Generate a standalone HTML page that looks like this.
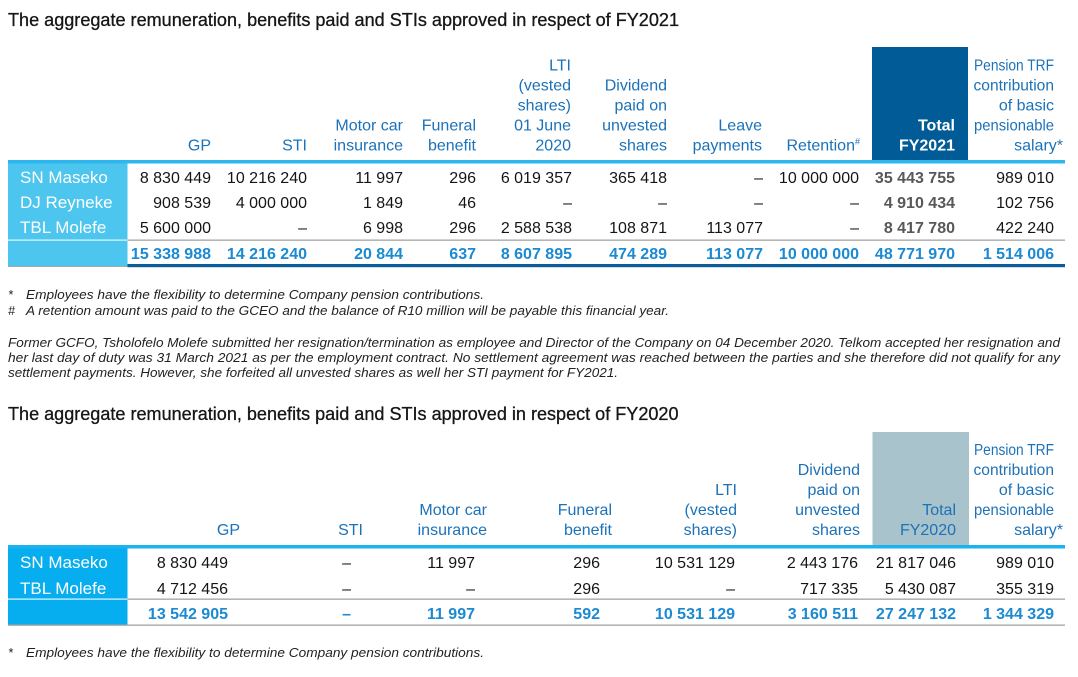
<!DOCTYPE html>
<html>
<head>
<meta charset="utf-8">
<style>
  html,body{margin:0;padding:0;background:#fff;}
  svg{display:block;}
  text{font-family:"Liberation Sans",Arial,sans-serif;}
  .t{font-size:18px;fill:#161616;stroke:#161616;stroke-width:0.3px;}
  .h{font-size:16px;fill:#1c72b8;}
  .hw{font-size:16px;fill:#ffffff;font-weight:bold;}
  .d{font-size:16px;fill:#151515;}
  .g{font-size:16px;fill:#58585a;font-weight:bold;}
  .tot{font-size:16px;fill:#1b8ad2;font-weight:bold;}
  .lab{font-size:17px;fill:#ffffff;}
  .n{font-size:12.5px;fill:#222;font-style:italic;}
</style>
</head>
<body>
<svg width="1078" height="677" viewBox="0 0 1078 677" xmlns="http://www.w3.org/2000/svg">
  <rect x="0" y="0" width="1078" height="677" fill="#ffffff"/>

  <!-- ===== TABLE 1 ===== -->
  <text class="t" x="8" y="26" textLength="671" lengthAdjust="spacingAndGlyphs">The aggregate remuneration, benefits paid and STIs approved in respect of FY2021</text>

  <rect x="872" y="47" width="96" height="114" fill="#005b97"/>

  <g text-anchor="end">
    <text class="h" x="211" y="150.5">GP</text>
    <text class="h" x="307" y="150.5">STI</text>
    <text class="h" x="403" y="130.5">Motor car</text>
    <text class="h" x="403" y="150.5">insurance</text>
    <text class="h" x="476" y="130.5">Funeral</text>
    <text class="h" x="476" y="150.5">benefit</text>
    <text class="h" x="571" y="70.5">LTI</text>
    <text class="h" x="571" y="90.5">(vested</text>
    <text class="h" x="571" y="110.5">shares)</text>
    <text class="h" x="571" y="130.5">01 June</text>
    <text class="h" x="571" y="150.5">2020</text>
    <text class="h" x="667" y="90.5">Dividend</text>
    <text class="h" x="667" y="110.5">paid on</text>
    <text class="h" x="667" y="130.5">unvested</text>
    <text class="h" x="667" y="150.5">shares</text>
    <text class="h" x="762" y="130.5">Leave</text>
    <text class="h" x="762" y="150.5">payments</text>
    <text class="h" x="860" y="150.5">Retention<tspan font-size="9" dy="-6">#</tspan></text>
    <text class="hw" x="955" y="130.5">Total</text>
    <text class="hw" x="955" y="150.5">FY2021</text>
    <text class="h" x="1054" y="70.5" font-size="15" textLength="80" lengthAdjust="spacingAndGlyphs">Pension TRF</text>
    <text class="h" x="1054" y="90.5" textLength="80.5" lengthAdjust="spacingAndGlyphs">contribution</text>
    <text class="h" x="1054" y="110.5">of basic</text>
    <text class="h" x="1054" y="130.5" textLength="80" lengthAdjust="spacingAndGlyphs">pensionable</text>
    <text class="h" x="1063" y="150.5">salary*</text>
  </g>

  <rect x="8" y="160" width="119.5" height="106.5" fill="#4cc5ef"/>
  <rect x="8" y="160" width="1057" height="3.5" fill="#2db7ee"/>
  <rect x="8" y="239.5" width="119.5" height="1.2" fill="#e8f7fd"/>
  <rect x="127.5" y="239.5" width="937.5" height="1.3" fill="#a3a3a3"/>
  <rect x="127.5" y="264" width="937.5" height="3.2" fill="#0b5c98"/>
  <rect x="8" y="266" width="119.5" height="1" fill="#a8a8a8"/>

  <text class="lab" x="20" y="183">SN Maseko</text>
  <text class="lab" x="20" y="208">DJ Reyneke</text>
  <text class="lab" x="20" y="233">TBL Molefe</text>

  <g text-anchor="end">
    <text class="d" x="211" y="183">8 830 449</text>
    <text class="d" x="307" y="183">10 216 240</text>
    <text class="d" x="403" y="183">11 997</text>
    <text class="d" x="476" y="183">296</text>
    <text class="d" x="572" y="183">6 019 357</text>
    <text class="d" x="667" y="183">365 418</text>
    <text class="d" x="763" y="183">–</text>
    <text class="d" x="859" y="183">10 000 000</text>
    <text class="g" x="955" y="183">35 443 755</text>
    <text class="d" x="1054" y="183">989 010</text>

    <text class="d" x="211" y="208">908 539</text>
    <text class="d" x="307" y="208">4 000 000</text>
    <text class="d" x="403" y="208">1 849</text>
    <text class="d" x="476" y="208">46</text>
    <text class="d" x="572" y="208">–</text>
    <text class="d" x="667" y="208">–</text>
    <text class="d" x="763" y="208">–</text>
    <text class="d" x="859" y="208">–</text>
    <text class="g" x="955" y="208">4 910 434</text>
    <text class="d" x="1054" y="208">102 756</text>

    <text class="d" x="211" y="233">5 600 000</text>
    <text class="d" x="307" y="233">–</text>
    <text class="d" x="403" y="233">6 998</text>
    <text class="d" x="476" y="233">296</text>
    <text class="d" x="572" y="233">2 588 538</text>
    <text class="d" x="667" y="233">108 871</text>
    <text class="d" x="763" y="233">113 077</text>
    <text class="d" x="859" y="233">–</text>
    <text class="g" x="955" y="233">8 417 780</text>
    <text class="d" x="1054" y="233">422 240</text>

    <text class="tot" x="211" y="259">15 338 988</text>
    <text class="tot" x="307" y="259">14 216 240</text>
    <text class="tot" x="403" y="259">20 844</text>
    <text class="tot" x="476" y="259">637</text>
    <text class="tot" x="572" y="259">8 607 895</text>
    <text class="tot" x="667" y="259">474 289</text>
    <text class="tot" x="763" y="259">113 077</text>
    <text class="tot" x="859" y="259">10 000 000</text>
    <text class="tot" x="955" y="259">48 771 970</text>
    <text class="tot" x="1054" y="259">1 514 006</text>
  </g>

  <text class="n" x="8" y="299">*</text>
  <text class="n" x="26" y="299" textLength="458" lengthAdjust="spacingAndGlyphs">Employees have the flexibility to determine Company pension contributions.</text>
  <text class="n" x="8" y="315">#</text>
  <text class="n" x="26" y="315" textLength="643" lengthAdjust="spacingAndGlyphs">A retention amount was paid to the GCEO and the balance of R10 million will be payable this financial year.</text>

  <text class="n" x="8" y="347" textLength="1052" lengthAdjust="spacingAndGlyphs">Former GCFO, Tsholofelo Molefe submitted her resignation/termination as employee and Director of the Company on 04 December 2020. Telkom accepted her resignation and</text>
  <text class="n" x="8" y="362" textLength="1052" lengthAdjust="spacingAndGlyphs">her last day of duty was 31 March 2021 as per the employment contract. No settlement agreement was reached between the parties and she therefore did not qualify for any</text>
  <text class="n" x="8" y="377" textLength="610" lengthAdjust="spacingAndGlyphs">settlement payments. However, she forfeited all unvested shares as well her STI payment for FY2021.</text>

  <!-- ===== TABLE 2 ===== -->
  <text class="t" x="8" y="420" textLength="670.5" lengthAdjust="spacingAndGlyphs">The aggregate remuneration, benefits paid and STIs approved in respect of FY2020</text>

  <rect x="872.5" y="432" width="96.5" height="114" fill="#a8c3cb"/>

  <g text-anchor="end">
    <text class="h" x="240" y="535">GP</text>
    <text class="h" x="363" y="535">STI</text>
    <text class="h" x="487" y="515">Motor car</text>
    <text class="h" x="487" y="535">insurance</text>
    <text class="h" x="612" y="515">Funeral</text>
    <text class="h" x="612" y="535">benefit</text>
    <text class="h" x="737" y="495">LTI</text>
    <text class="h" x="737" y="515">(vested</text>
    <text class="h" x="737" y="535">shares)</text>
    <text class="h" x="860" y="475">Dividend</text>
    <text class="h" x="860" y="495">paid on</text>
    <text class="h" x="860" y="515">unvested</text>
    <text class="h" x="860" y="535">shares</text>
    <text class="h" x="956" y="515">Total</text>
    <text class="h" x="956" y="535">FY2020</text>
    <text class="h" x="1054" y="455" font-size="15" textLength="80" lengthAdjust="spacingAndGlyphs">Pension TRF</text>
    <text class="h" x="1054" y="475" textLength="80.5" lengthAdjust="spacingAndGlyphs">contribution</text>
    <text class="h" x="1054" y="495">of basic</text>
    <text class="h" x="1054" y="515" textLength="80" lengthAdjust="spacingAndGlyphs">pensionable</text>
    <text class="h" x="1063" y="535">salary*</text>
  </g>

  <rect x="8" y="545" width="119.5" height="80" fill="#06aeef"/>
  <rect x="8" y="545" width="1057" height="3.5" fill="#1ab2ef"/>
  <rect x="8" y="598.5" width="119.5" height="1.2" fill="#e6f6fd"/>
  <rect x="127.5" y="598.5" width="937.5" height="1.3" fill="#a3a3a3"/>
  <rect x="8" y="624.5" width="1057" height="1.3" fill="#a3a3a3"/>

  <text class="lab" x="20" y="568">SN Maseko</text>
  <text class="lab" x="20" y="594">TBL Molefe</text>

  <g text-anchor="end">
    <text class="d" x="228" y="568">8 830 449</text>
    <text class="d" x="351" y="568">–</text>
    <text class="d" x="475" y="568">11 997</text>
    <text class="d" x="600" y="568">296</text>
    <text class="d" x="735" y="568">10 531 129</text>
    <text class="d" x="858" y="568">2 443 176</text>
    <text class="d" x="956" y="568">21 817 046</text>
    <text class="d" x="1054" y="568">989 010</text>

    <text class="d" x="228" y="594">4 712 456</text>
    <text class="d" x="351" y="594">–</text>
    <text class="d" x="475" y="594">–</text>
    <text class="d" x="600" y="594">296</text>
    <text class="d" x="735" y="594">–</text>
    <text class="d" x="858" y="594">717 335</text>
    <text class="d" x="956" y="594">5 430 087</text>
    <text class="d" x="1054" y="594">355 319</text>

    <text class="tot" x="228" y="619">13 542 905</text>
    <text class="tot" x="351" y="619">–</text>
    <text class="tot" x="475" y="619">11 997</text>
    <text class="tot" x="600" y="619">592</text>
    <text class="tot" x="735" y="619">10 531 129</text>
    <text class="tot" x="858" y="619">3 160 511</text>
    <text class="tot" x="956" y="619">27 247 132</text>
    <text class="tot" x="1054" y="619">1 344 329</text>
  </g>

  <text class="n" x="8" y="657">*</text>
  <text class="n" x="26" y="657" textLength="458" lengthAdjust="spacingAndGlyphs">Employees have the flexibility to determine Company pension contributions.</text>
</svg>
</body>
</html>
